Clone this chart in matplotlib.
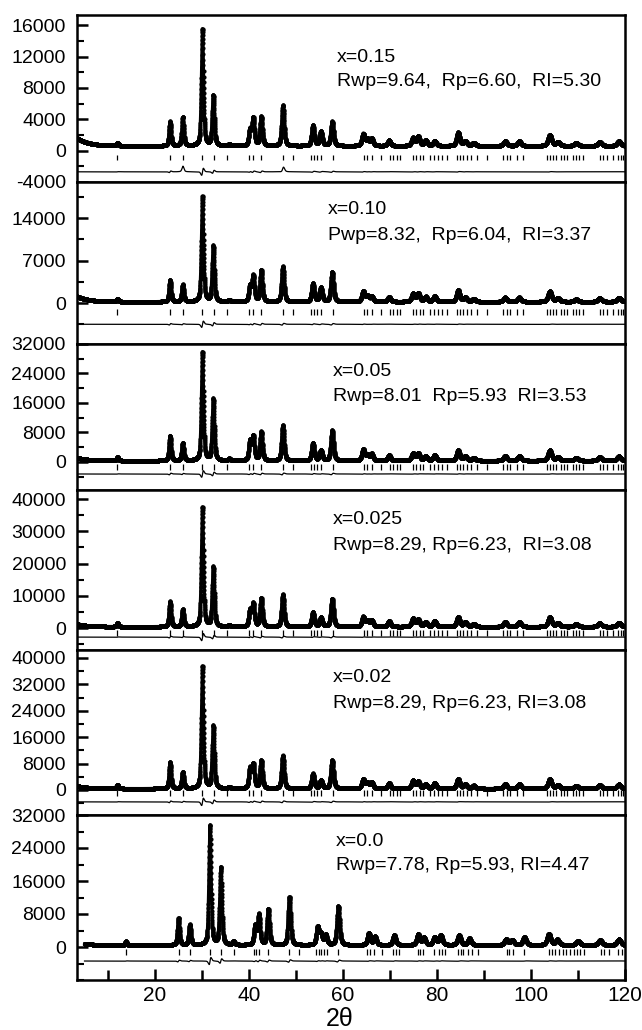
import numpy as np
import matplotlib.pyplot as plt
from matplotlib.ticker import MultipleLocator

plt.rcParams['font.family'] = ['Liberation Sans', 'DejaVu Sans']
plt.rcParams['axes.unicode_minus'] = False

# peak positions (2theta), samples x=0.15 ... 0.02
pos_a = [12.0, 23.2, 25.9, 30.1, 32.4, 35.8, 40.2, 40.9, 42.6, 47.2, 53.6, 55.3,
         57.7, 64.3, 65.2, 66.1, 69.8, 74.9, 76.0, 77.6, 79.5, 84.5, 86.0, 87.8,
         94.5, 97.5, 104.0, 105.7, 109.6, 114.6, 118.7]
# peak positions, sample x=0.0
pos_b = [13.8, 25.0, 27.4, 31.7, 34.0, 36.7, 41.3, 42.1, 44.1, 48.6, 54.6, 55.3,
         56.3, 59.0, 65.5, 66.8, 70.9, 76.0, 77.2, 79.5, 80.8, 84.7, 86.9, 94.7,
         96.0, 98.6, 103.8, 105.6, 110.0, 114.7, 118.7]

# peak heights (counts above background)
h_015 = [400, 3100, 3000, 14900, 6400, 200, 2000, 3500, 3700, 4700, 2600, 1800,
         3100, 1500, 800, 900, 700, 1000, 1200, 700, 600, 1700, 600, 400,
         600, 600, 1400, 500, 400, 500, 600]
h_010 = [500, 3600, 2800, 17300, 9200, 300, 2500, 4200, 5200, 5800, 3000, 2300,
         4900, 1700, 900, 900, 800, 1300, 1400, 800, 900, 1900, 700, 500,
         700, 700, 1700, 600, 400, 600, 700]
h_005 = [1000, 6800, 4800, 29500, 16800, 500, 5200, 6500, 7800, 9600, 4800, 2800,
         8200, 3000, 1500, 1800, 1500, 2000, 2000, 1200, 1500, 2800, 1200, 800,
         1300, 1300, 2800, 1000, 800, 1000, 1200]
h_0025 = [1200, 7800, 5300, 37000, 18500, 500, 5000, 7000, 8800, 10000, 4500, 2800,
          8700, 3000, 1800, 2000, 1800, 2500, 2200, 1400, 1800, 3000, 1400, 900,
          1500, 1500, 3000, 1200, 900, 1100, 1300]
h_002 = [1200, 8000, 5000, 37000, 19000, 500, 6000, 7200, 8500, 10000, 4500, 2500,
         8600, 2800, 1600, 1900, 1700, 2400, 2100, 1300, 1700, 2900, 1300, 900,
         1400, 1400, 2900, 1100, 900, 1100, 1300]
h_000 = [900, 6500, 4900, 29000, 18800, 800, 4500, 7300, 8700, 11600, 4300, 2500,
         2400, 9400, 2900, 2000, 2400, 2600, 1800, 1900, 2400, 2400, 1600, 1400,
         1200, 1900, 2700, 1300, 1000, 1200, 1400]

# extra intensity seen only in the observed data of x=0.15
imp_pos = [25.9, 47.3]
imp_h = [700, 500]

# reflection markers
ticks_a = [11.9, 23.2, 26.0, 30.0, 32.5, 35.3, 40.1, 40.8, 42.6, 47.3, 49.4, 53.2,
           53.9, 54.5, 55.3, 57.9, 64.5, 65.2, 66.2, 68.1, 70.0, 70.7, 71.4, 72.1,
           74.9, 75.6, 76.4, 77.0, 78.6, 79.3, 80.2, 81.0, 82.1, 84.3, 84.9, 85.6,
           86.3, 87.2, 88.5, 90.6, 94.0, 94.8, 95.6, 97.0, 98.3, 103.4, 104.0, 104.7,
           105.3, 106.4, 107.0, 107.7, 108.9, 109.6, 110.3, 111.0, 114.7, 115.4,
           116.2, 117.4, 118.5, 119.2, 119.6]
ticks_b = [13.8, 25.0, 27.4, 31.7, 34.0, 36.7, 41.0, 41.5, 42.1, 44.1, 48.6, 50.6,
           54.3, 54.8, 55.4, 56.0, 56.6, 59.0, 65.2, 65.8, 66.5, 68.2, 70.6, 71.3,
           72.0, 75.9, 76.4, 77.0, 79.3, 80.4, 81.0, 81.6, 84.4, 85.0, 85.6, 86.7,
           87.5, 88.8, 94.8, 95.4, 96.2, 98.6, 103.9, 104.5, 105.2, 105.9, 106.8,
           107.5, 108.3, 109.2, 109.8, 110.5, 111.2, 114.8, 115.5, 116.6, 118.6, 119.3]

bg_level = [600, 200, 300, 400, 400, 450]
bg_rise = [1000, 900, 800, 800, 800, 300]

lab_x = ["x=0.15", "x=0.10", "x=0.05", "x=0.025", "x=0.02", "x=0.0"]
lab_r = ["Rwp=9.64,  Rp=6.60,  RI=5.30",
         "Pwp=8.32,  Rp=6.04,  RI=3.37",
         "Rwp=8.01  Rp=5.93  RI=3.53",
         "Rwp=8.29, Rp=6.23,  RI=3.08",
         "Rwp=8.29, Rp=6.23, RI=3.08",
         "Rwp=7.78, Rp=5.93, RI=4.47"]

heights = [h_015, h_010, h_005, h_0025, h_002, h_000]
positions = [pos_a] * 5 + [pos_b]
refl = [ticks_a] * 5 + [ticks_b]

# layout (pixels) and axis settings
W, H = 642, 1030
x0, x1 = 77, 625
panels = [(15, 182), (182, 344), (344, 490), (490, 650), (650, 815), (815, 980)]
ylims = [(-4000, 17300), (-6750, 19930), (-7650, 32000), (-6800, 42800),
         (-7580, 42400), (-8000, 32000)]
ymajor = [4000, 7000, 8000, 10000, 8000, 8000]
ylabs = [np.arange(-4000, 16001, 4000), np.arange(0, 14001, 7000),
         np.arange(0, 32001, 8000), np.arange(0, 40001, 10000),
         np.arange(0, 40001, 8000), np.arange(0, 32001, 8000)]
tick_y = [-900, -1500, -1400, -1550, -900, -1200]
diff_y = [-2700, -3500, -3300, -2800, -3600, -3400]
txt_pos = [(337, 58, 82), (328, 210, 236), (333, 372, 397), (333, 520, 545),
           (333, 678, 703), (336, 841, 865)]
xmin = 3.4


def profile(x, pos, hts, shift=0.0):
    y = np.zeros_like(x)
    for p, h in zip(pos, hts):
        w = 0.19 + 0.0025 * p
        d = (x - p - shift) / w
        y += h * (0.5 * np.exp(-np.log(2) * d ** 2) + 0.5 / (1 + d ** 2))
    return y


fig = plt.figure(figsize=(W / 100, H / 100), dpi=100)

for i in range(6):
    top, bot = panels[i]
    ax = fig.add_axes([x0 / W, 1 - bot / H, (x1 - x0) / W, (bot - top) / H])
    start = xmin if i < 5 else 5.0
    x = np.arange(start, 120.0, 0.02)
    bg = bg_level[i] + bg_rise[i] * np.exp(-(x - start) / 2.5)
    calc = bg + profile(x, positions[i], heights[i])
    obs = bg + profile(x, positions[i], heights[i], shift=0.012)
    if i == 0:
        obs = obs + profile(x, imp_pos, imp_h)
    diff = obs - calc + diff_y[i]

    ax.plot(x, obs, 'o', ms=3.0, color='k', mew=0)
    ax.plot(x, calc, '-', color='k', lw=2.3)
    ylo, yhi = ylims[i]
    tl = 5.5 * (yhi - ylo) / (bot - top)
    ax.vlines(refl[i], tick_y[i] - tl / 2, tick_y[i] + tl / 2, color='k', lw=0.9)
    ax.plot(x, diff, '-', color='k', lw=0.9)

    ax.set_xlim(xmin, 120)
    ax.set_ylim(ylo, yhi)
    ax.set_yticks(ylabs[i])
    ax.yaxis.set_minor_locator(MultipleLocator(ymajor[i] / 2))
    ax.tick_params(axis='y', which='major', direction='in', length=8, width=1.8,
                   labelsize=14, pad=8, right=False)
    ax.tick_params(axis='y', which='minor', direction='in', length=5, width=1.5,
                   right=False)
    for s in ax.spines.values():
        s.set_linewidth(1.8)
    if i < 5:
        ax.tick_params(axis='x', which='both', bottom=False, top=False,
                       labelbottom=False)
    else:
        ax.set_xticks(np.arange(20, 121, 20))
        ax.xaxis.set_minor_locator(MultipleLocator(10))
        ax.tick_params(axis='x', which='major', direction='in', length=8,
                       width=1.8, labelsize=15, pad=4, top=False)
        ax.tick_params(axis='x', which='minor', direction='in', length=7,
                       width=1.8, top=False)

    tx, ty1, ty2 = txt_pos[i]
    fig.text(tx / W, 1 - ty1 / H, lab_x[i], fontsize=14, va='center')
    fig.text(tx / W, 1 - ty2 / H, lab_r[i], fontsize=14, va='center')

fig.text(340 / W, 1 - 1026 / H, "2θ", fontsize=18, ha='center', va='baseline')

fig.savefig("out.png", dpi=100)
